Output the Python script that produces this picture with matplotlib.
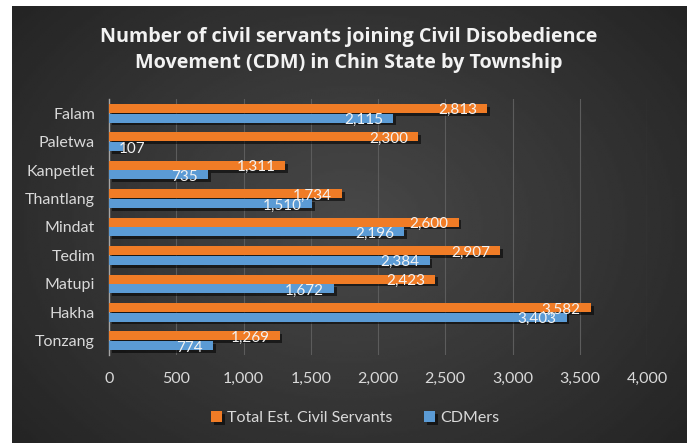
import numpy as np
import matplotlib
matplotlib.use('Agg')
import matplotlib.pyplot as plt
import matplotlib.patheffects as pe
from matplotlib.transforms import offset_copy

plt.rcParams['font.family'] = ['Lato', 'DejaVu Sans']

townships = ['Falam', 'Paletwa', 'Kanpetlet', 'Thantlang', 'Mindat',
             'Tedim', 'Matupi', 'Hakha', 'Tonzang']
total_servants = [2813, 2300, 1311, 1734, 2600, 2907, 2423, 3582, 1269]
cdmers = [2115, 107, 735, 1510, 2196, 2384, 1672, 3403, 774]
x_ticks = [0, 500, 1000, 1500, 2000, 2500, 3000, 3500, 4000]

orange = '#f07c26'
blue = '#5b9bd5'
text_col = '#d9d9d9'

fig = plt.figure(figsize=(6.87, 4.43), dpi=100)
fig.patch.set_facecolor('white')

# dark gradient background panel
bg = fig.add_axes([12 / 687, 0, 1 - 12 / 687, 1 - 6 / 443])
yy, xx = np.mgrid[-1:1:200j, -1:1:300j]
r = np.sqrt((xx / 1.1) ** 2 + (yy / 1.3) ** 2)
shade = 0.285 - 0.12 * np.clip(r, 0, 1.2)
bg.imshow(shade, cmap='gray', vmin=0, vmax=1, aspect='auto', extent=[0, 1, 0, 1])
bg.set_axis_off()

ax = fig.add_axes([109 / 687, 1 - 355 / 443, (647 - 109) / 687, 256 / 443])
ax.patch.set_alpha(0)

y = np.arange(len(townships))
h = 0.32
shadow = [pe.SimplePatchShadow(offset=(2, -2), shadow_rgbFace='black', alpha=0.55), pe.Normal()]
bars_total = ax.barh(y - 0.17, total_servants, height=h, color=orange, zorder=3,
                     label='Total Est. Civil Servants')
bars_cdm = ax.barh(y + 0.17, cdmers, height=h, color=blue, zorder=3, label='CDMers')
for b in list(bars_total) + list(bars_cdm):
    b.set_path_effects(shadow)

# value labels near bar ends
for vals, off_y in ((total_servants, -0.17), (cdmers, 0.17)):
    for i, v in enumerate(vals):
        if v < 400:
            tr = offset_copy(ax.transData, fig=fig, x=-5, y=-2, units='dots')
            ha = 'left'
        else:
            tr = offset_copy(ax.transData, fig=fig, x=-10, y=-2, units='dots')
            ha = 'right'
        ax.text(v, i + off_y, f'{v:,}', transform=tr, ha=ha, va='center',
                color='#f2f2f2', fontsize=11, zorder=5)

ax.set_xlim(0, 4000)
ax.set_ylim(len(townships) - 0.5, -0.5)
ax.set_xticks(x_ticks)
ax.set_xticklabels([f'{t:,}' for t in x_ticks])
ax.set_yticks(y)
ax.set_yticklabels(townships)
ax.tick_params(axis='both', length=0, colors=text_col, labelsize=11.5)
ax.tick_params(axis='x', pad=12)
ax.tick_params(axis='y', pad=10)
ax.xaxis.grid(True, color='#5c5c5c', linewidth=0.8, zorder=0)
for side in ('top', 'right', 'bottom'):
    ax.spines[side].set_visible(False)
ax.spines['left'].set_color('#a6a6a6')
ax.spines['left'].set_linewidth(1)

fig.text(0.507, 0.887, 'Number of civil servants joining Civil Disobedience\n'
         'Movement (CDM) in Chin State by Township',
         ha='center', va='center', color='#f2f2f2', fontsize=14.2,
         fontweight='bold', family=['Open Sans', 'DejaVu Sans'], linespacing=1.4)

fig.legend(handles=[bars_total, bars_cdm], loc='center', bbox_to_anchor=(0.517, 0.056),
           ncol=2, frameon=False, fontsize=11.5, labelcolor=text_col,
           handlelength=0.7, handleheight=0.7, handletextpad=0.3, columnspacing=2.0)

fig.savefig('out.png', dpi=100, facecolor=fig.get_facecolor())
